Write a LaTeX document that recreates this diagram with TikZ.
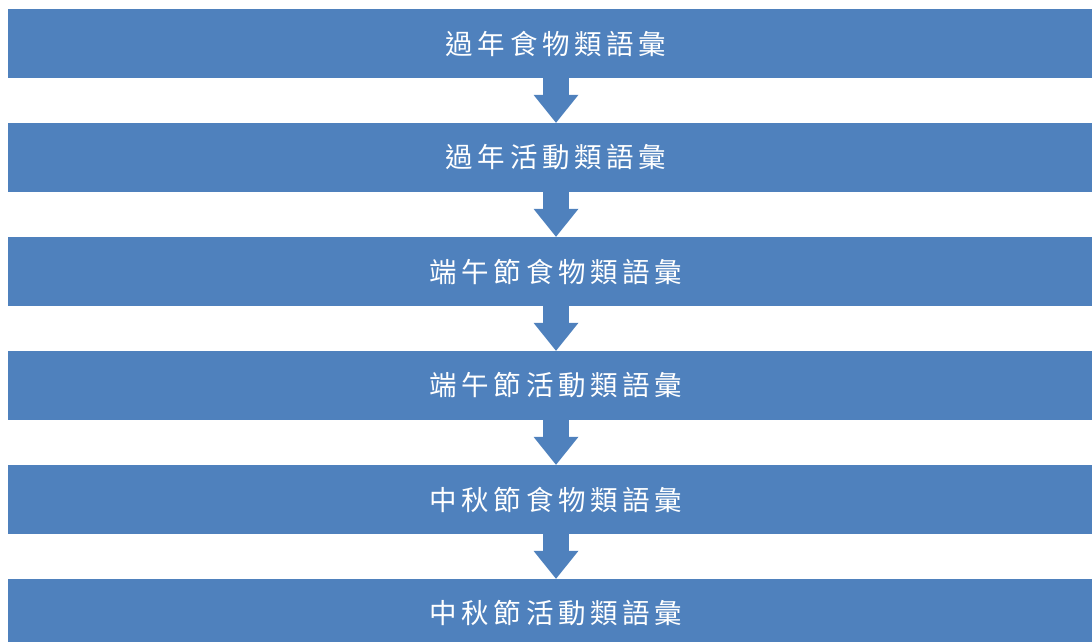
\documentclass[tikz,border=0pt]{standalone}
\usepackage{fontspec}
\newfontfamily\cjk[LetterSpace=17]{Noto Sans CJK TC}
\usetikzlibrary{arrows.meta,positioning}
\definecolor{StageBlue}{HTML}{4F81BD}

\begin{document}
\begin{tikzpicture}[x=1pt,y=-1pt,node distance=44.6pt,
  stage/.style={fill=StageBlue,minimum width=1096pt,minimum height=69pt,inner sep=0pt,
    text=white,font=\cjk\fontsize{27.5pt}{30pt}\selectfont},
  flow/.style={StageBlue,line width=26pt,-{Triangle[width=45pt,length=28pt,line width=0pt]}}]
  \clip (0,0) rectangle (1092,641);
  \node[stage] (nyfood) at (556,43.5) {過年食物類語彙};
  \node[stage,below=of nyfood] (nyact) {過年活動類語彙};
  \node[stage,below=of nyact] (dbfood) {端午節食物類語彙};
  \node[stage,below=of dbfood] (dbact) {端午節活動類語彙};
  \node[stage,below=of dbact] (mafood) {中秋節食物類語彙};
  \node[stage,below=of mafood] (maact) {中秋節活動類語彙};
  % arrows between the stages
  \draw[flow] (nyfood) -- (nyact);
  \draw[flow] (nyact) -- (dbfood);
  \draw[flow] (dbfood) -- (dbact);
  \draw[flow] (dbact) -- (mafood);
  \draw[flow] (mafood) -- (maact);
\end{tikzpicture}
\end{document}
